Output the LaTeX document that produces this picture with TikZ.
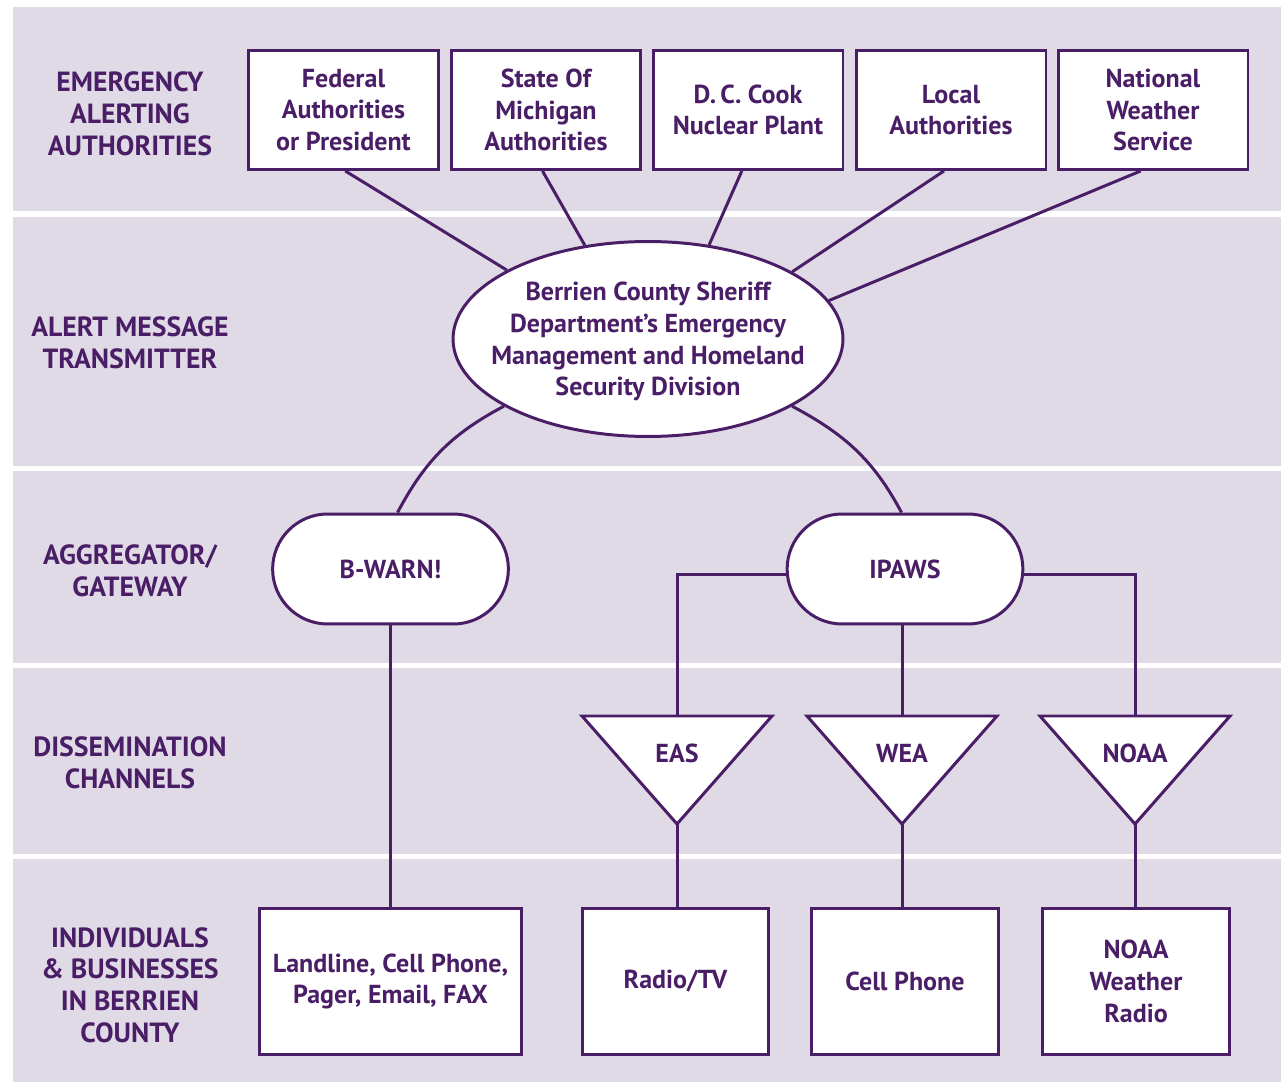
\documentclass[tikz,border=0pt]{standalone}
\usepackage{fontspec}
\setmainfont{PT Sans}
\usetikzlibrary{shapes.geometric,shapes.misc}
\definecolor{bcpurple}{RGB}{74,30,102}
\definecolor{bclav}{RGB}{224,218,230}

\begin{document}
\begin{tikzpicture}[x=0.02cm,y=0.02cm]
   \tikzstyle{every node}=[text=bcpurple, font=\fontsize{14.8}{18.1}\selectfont\bfseries, align=center]
   \tikzstyle{level}=[font=\fontsize{15.8}{18.1}\selectfont\bfseries]
   \tikzstyle{link}=[draw=bcpurple, line width=1.7pt]
   \tikzstyle{authority}=[link, fill=white, rectangle, minimum width=3.8cm, minimum height=2.38cm]
   \tikzstyle{gateway}=[link, fill=white, rounded rectangle, minimum width=4.95cm, minimum height=2.2cm]
   \tikzstyle{receiver}=[link, fill=white, rectangle, minimum width=3.74cm, minimum height=2.92cm]

% bands
\useasboundingbox (0,0) rectangle (1284,1083);
\fill[bclav] (13,1) rectangle (1281,1076);
\fill[white] (13,866) rectangle (1281,872);
\fill[white] (13,612) rectangle (1281,617);
\fill[white] (13,415) rectangle (1281,420);
\fill[white] (13,224) rectangle (1281,229);

\node[level] (lvl1) at (130,969) {EMERGENCY\\ALERTING\\AUTHORITIES};
\node[level] (lvl2) at (130,740) {ALERT MESSAGE\\TRANSMITTER};
\node[level] (lvl3) at (130,512) {AGGREGATOR/\\GATEWAY};
\node[level] (lvl4) at (130,320) {DISSEMINATION\\CHANNELS};
\node[level] (lvl5) at (130,98) {INDIVIDUALS\\\& BUSINESSES\\IN BERRIEN\\COUNTY};

% authorities
\node[authority] (fed) at (343.5,973) {Federal\\Authorities\\or President};
\node[authority] (state) at (546,973) {State Of\\Michigan\\Authorities};
\node[authority] (cook) at (748,973) {D.\,C. Cook\\Nuclear Plant};
\node[authority] (local) at (951,973) {Local\\Authorities};
\node[authority] (nws) at (1153,973) {National\\Weather\\Service};

% transmitter
\node[link, fill=white, ellipse, minimum width=7.8cm, minimum height=3.9cm, inner sep=0pt] (sheriff) at (648,744) {};
\node (sherifftext) at ([yshift=-1.5pt]sheriff.center) {Berrien County Sheriff\\Department's Emergency\\Management and Homeland\\Security Division};

% gateways
\node[gateway] (bwarn) at (390.5,514) {B-WARN!};
\node[gateway] (ipaws) at (905,514) {IPAWS};

% channels
\foreach \x/\nm/\lbl in {677/eas/EAS, 902/wea/WEA, 1135/noaa/NOAA}{
  \draw[link, fill=white] (\x-95,367) -- (\x+95,367) -- (\x,259) -- cycle;
  \coordinate (\nm-top) at (\x,367);
  \coordinate (\nm-bot) at (\x,259);
  \node (\nm) at (\x,330) {\lbl};
}

% receivers
\node[receiver, minimum width=5.24cm] (landline) at (390.5,101.5) {Landline, Cell Phone,\\Pager, Email, FAX};
\node[receiver] (radio) at (675.5,101.5) {Radio/TV};
\node[receiver] (cell) at (905,101.5) {Cell Phone};
\node[receiver] (wxradio) at (1136,101.5) {NOAA\\Weather\\Radio};

% connectors
\draw[link] ([xshift=1pt]fed.south) -- (sheriff.154);
\draw[link] ([xshift=-2pt]state.south) -- (sheriff.124);
\draw[link] ([xshift=-3.5pt]cook.south) -- (sheriff.57);
\draw[link] ([xshift=-4pt]local.south) -- (sheriff.25);
\draw[link] ([xshift=-7pt]nws.south) -- (sheriff.12);

\draw[link] (sheriff.205) to[out=208, in=62] ([xshift=4pt]bwarn.north);
\draw[link] (sheriff.-25) to[out=-28, in=118] ([xshift=-2pt]ipaws.north);

\draw[link] ([yshift=-3.4pt]ipaws.west) -| (eas-top);
\draw[link] (ipaws.south -| wea-top) -- (wea-top);
\draw[link] ([yshift=-3.4pt]ipaws.east) -| (noaa-top);

\draw[link] (bwarn.south) -- (landline.north);
\draw[link] (eas-bot) -- (eas-bot |- radio.north);
\draw[link] (wea-bot) -- (wea-bot |- cell.north);
\draw[link] (noaa-bot) -- (noaa-bot |- wxradio.north);

\end{tikzpicture}
\end{document}
